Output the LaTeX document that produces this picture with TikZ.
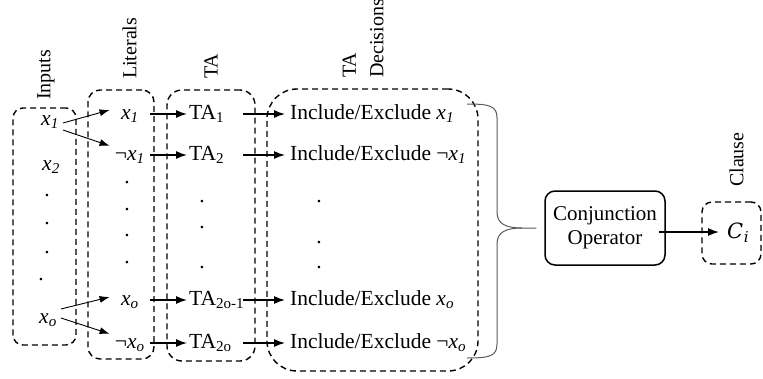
\documentclass[tikz,border=0pt]{standalone}
\usepackage{fontspec}
\setmainfont{Liberation Serif}
\newfontfamily\cifont{DejaVu Serif}
\usetikzlibrary{arrows.meta}
\begin{document}
\begin{tikzpicture}[x=1pt,y=-1pt,
  dbox/.style={draw, dash pattern=on 6pt off 4pt, line width=1.4pt, inner sep=0pt},
  arr/.style={-{Latex[length=11pt,width=8pt]}, line width=1.3pt},
  iarr/.style={-{Latex[length=10pt,width=7pt]}, line width=0.9pt},
  txt/.style={font=\fontsize{21.5}{24}\selectfont, text height=14pt, text depth=4pt, inner ysep=0pt, inner xsep=0pt},
  lab/.style={font=\fontsize{20}{27.5}\selectfont, rotate=90, anchor=west, inner sep=0pt, align=left},
  dotn/.style={font=\fontsize{21.5}{24}\selectfont, inner sep=0pt, anchor=base},
  litn/.style={txt, anchor=east, minimum width=40pt},
  tan/.style={txt, anchor=west, inner xsep=2pt, text width=52pt, align=left},
  incn/.style={txt, anchor=west, inner xsep=5pt},
  brace/.style={draw=black!65, line width=1pt}
]
\useasboundingbox (0,0) rectangle (763,378);

% dashed group boxes
\node[dbox, rounded corners=10pt, minimum width=63pt, minimum height=237pt] (inbox) at (44.5,226.5) {};
\node[dbox, rounded corners=12pt, minimum width=66pt, minimum height=269pt] (litbox) at (121,224.5) {};
\node[dbox, rounded corners=15pt, minimum width=88pt, minimum height=271pt] (tabox) at (211,225.5) {};
\node[dbox, rounded corners=30pt, minimum width=211pt, minimum height=282pt] (decbox) at (372.5,230) {};
\node[dbox, rounded corners=10pt, minimum width=59pt, minimum height=62pt] (clbox) at (731.5,233) {};

% rotated labels
\node[lab] (linputs) at (46,100) {Inputs};
\node[lab] (llits) at (129.5,79) {Literals};
\node[lab] (lta) at (211,79) {TA};
\node[lab] (ldec) at (363,78) {TA\\Decisions};
\node[lab] (lclause) at (736.5,187) {Clause};

% inputs
\node[txt, inner xsep=4pt] (in1) at (50,120) {\textit{x}\textsubscript{\textit{1}}};
\node[txt] (in2) at (51,165) {\textit{x}\textsubscript{\textit{2}}};
\node[txt, inner xsep=4pt] (ino) at (48,318) {\textit{x}\textsubscript{\textit{o}}};
\foreach \y/\x [count=\k] in {196/47,224/47,253/47,280/41}
  \node[dotn] (ind\k) at (\x,\y) {.};

% literals
\node[litn] (l1) at (150,114) {\textit{x}\textsubscript{\textit{1}}};
\node[litn] (l2) at (150,155) {¬\textit{x}\textsubscript{\textit{1}}};
\node[litn] (l3) at (150,300) {\textit{x}\textsubscript{\textit{o}}};
\node[litn] (l4) at (150,343) {¬\textit{x}\textsubscript{\textit{o}}};
\foreach \y [count=\k] in {183,210,236,263}
  \node[dotn] (ld\k) at (127,\y) {.};

% TA
\node[tan] (t1) at (187,114) {TA\textsubscript{1}};
\node[tan] (t2) at (187,155) {TA\textsubscript{2}};
\node[tan] (t3) at (187,300) {TA\textsubscript{2o-1}};
\node[tan] (t4) at (187,343) {TA\textsubscript{2o}};
\foreach \y [count=\k] in {202,228,268}
  \node[dotn] (td\k) at (202,\y) {.};

% decisions
\node[incn] (i1) at (285,114) {Include/Exclude \textit{x}\textsubscript{\textit{1}}};
\node[incn] (i2) at (285,155) {Include/Exclude ¬\textit{x}\textsubscript{\textit{1}}};
\node[incn] (i3) at (285,300) {Include/Exclude \textit{x}\textsubscript{\textit{o}}};
\node[incn] (i4) at (285,343) {Include/Exclude ¬\textit{x}\textsubscript{\textit{o}}};
\foreach \y [count=\k] in {202,243,268}
  \node[dotn] (dd\k) at (319,\y) {.};

% conjunction and clause
\node[draw, rounded corners=10pt, line width=1.5pt, minimum width=120pt, minimum height=74pt,
  align=center, font=\fontsize{21}{24}\selectfont, inner sep=0pt] (conj) at (605,228) {Conjunction\\Operator};
\node[anchor=west, inner xsep=8pt, inner ysep=0pt, text height=15pt, text depth=2pt,
  font=\cifont\itshape\fontsize{21}{24}\selectfont] (ci) at (719,232)
  {C\kern0.5pt\raisebox{-3.5pt}{\fontsize{15}{18}\selectfont i}};

% arrows inputs -> literals
\draw[iarr] ([yshift=-3pt]in1.east) -- ([yshift=4pt]l1.west);
\draw[iarr] ([yshift=-10pt]in1.east) -- (l2.north west);
\draw[iarr] ([yshift=9pt]ino.east) -- ([yshift=3pt]l3.west);
\draw[iarr] (ino.east) -- (l4.north west);

% literals -> TA -> decisions
\foreach \k in {1,2,3,4} {
  \draw[arr] (l\k.east) -- (t\k.west);
  \draw[arr] (t\k.east) -- (i\k.west);
}

% brace
\coordinate (btop) at (467,104);
\coordinate (bbot) at (467,358);
\coordinate (btip) at (522,228);
\draw[brace] (btop) .. controls (490,104) and (497,106) .. (497,118) -- (497,212)
  .. controls (497,224) and (506,228) .. (btip) -- ([xshift=-8pt]conj.west);
\draw[brace] (btip) .. controls (506,228) and (497,232) .. (497,244) -- (497,344)
  .. controls (497,356) and (490,358) .. (bbot);

% conjunction -> clause
\coordinate (cs) at (659,232);
\draw[arr] (cs) -- (ci.west);
\end{tikzpicture}
\end{document}
